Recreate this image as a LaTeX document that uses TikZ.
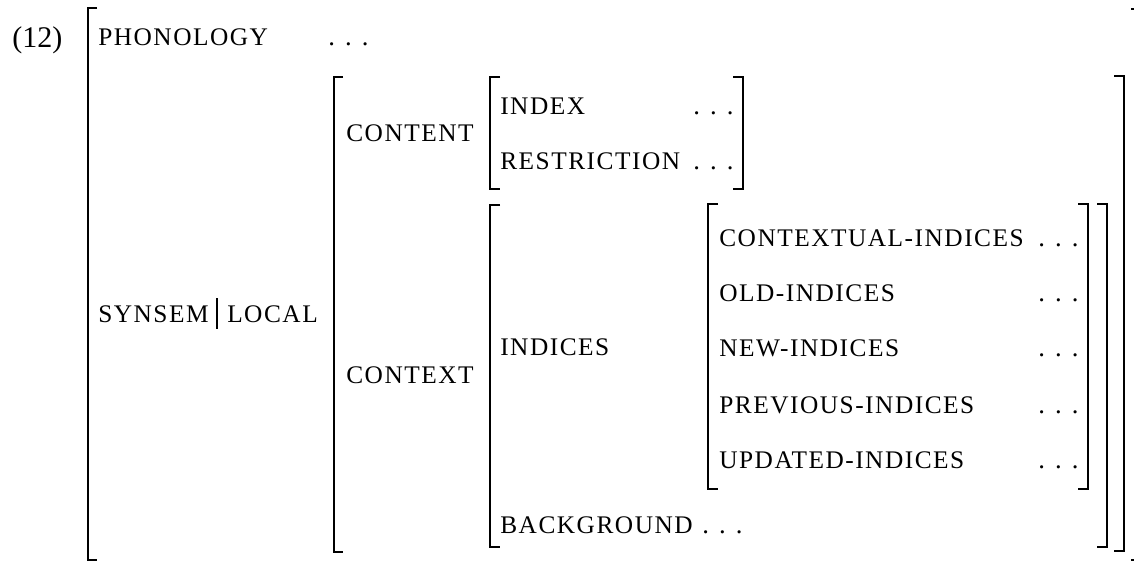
\documentclass[tikz,border=0pt]{standalone}
\usepackage{fontspec}
\setmainfont{Liberation Serif}
\newfontfamily\labfont[LetterSpace=6]{Liberation Serif}
\tikzset{
  lab/.style={anchor=base west, inner sep=0pt, font=\fontsize{19}{22}\selectfont\labfont},
  dts/.style={anchor=base west, inner sep=0pt, font=\fontsize{20}{22}\selectfont},
  num/.style={anchor=base west, inner sep=0pt, font=\fontsize{22.5}{24}\selectfont},
  brk/.style={line width=1.6pt, line cap=butt, line join=miter},
}
\newcommand{\threedots}{.\hspace{7.6pt}.\hspace{7.6pt}.}
\begin{document}
\begin{tikzpicture}[x=0.75pt, y=-0.75pt]
\useasboundingbox (0,0) rectangle (1134,563);
% number
\node[num] (n12) at (12,48) {(12)};
% outer matrix brackets
\draw[brk] (97,8) -- (88,8) -- (88,560) -- (97,560);
\draw[brk] (1131,9) -- (1141,9) -- (1141,560) -- (1131,560);
% PHONOLOGY row
\node[lab] (phon) at (98,46) {PHONOLOGY};
\node[dts] (phonv) at (328,46) {\threedots};
% SYNSEM|LOCAL
\node[lab] (syn) at (98,322.5) {SYNSEM};
\node[lab] (loc) at (227,322.5) {LOCAL};
\draw[line width=0.8pt] (217,298) -- (217,329);
% level-2 brackets
\draw[brk] (343,77) -- (334,77) -- (334,552) -- (343,552);
\draw[brk] (1114,76) -- (1124,76) -- (1124,551) -- (1114,551);
% CONTENT
\node[lab] (cont) at (346,141.7) {CONTENT};
\draw[brk] (500,77) -- (490,77) -- (490,189) -- (500,189);
\draw[brk] (733,77) -- (743,77) -- (743,189) -- (733,189);
\node[lab] (index) at (500,115) {INDEX};
\node[dts] (indexv) at (693,115) {\threedots};
\node[lab] (restr) at (500,170) {RESTRICTION};
\node[dts] (restrv) at (693,170) {\threedots};
% CONTEXT
\node[lab] (ctxt) at (346,383) {CONTEXT};
\draw[brk] (500,205) -- (490,205) -- (490,547) -- (500,547);
\draw[brk] (1097,204) -- (1107,204) -- (1107,547) -- (1097,547);
\node[lab] (indices) at (500,355) {INDICES};
\draw[brk] (718,204) -- (708,204) -- (708,489) -- (718,489);
\draw[brk] (1078,204) -- (1088,204) -- (1088,489) -- (1078,489);
\node[lab] (ci) at (719,246.7) {CONTEXTUAL-INDICES};
\node[dts] (civ) at (1038,246.7) {\threedots};
\node[lab] (oi) at (719,301.7) {OLD-INDICES};
\node[dts] (oiv) at (1038,301.7) {\threedots};
\node[lab] (ni) at (719,356.7) {NEW-INDICES};
\node[dts] (niv) at (1038,356.7) {\threedots};
\node[lab] (pi) at (719,413.3) {PREVIOUS-INDICES};
\node[dts] (piv) at (1038,413.3) {\threedots};
\node[lab] (ui) at (719,468.3) {UPDATED-INDICES};
\node[dts] (uiv) at (1038,468.3) {\threedots};
\node[lab] (bg) at (500,533) {BACKGROUND};
\node[dts] (bgv) at (702,533) {\threedots};
\end{tikzpicture}
\end{document}
